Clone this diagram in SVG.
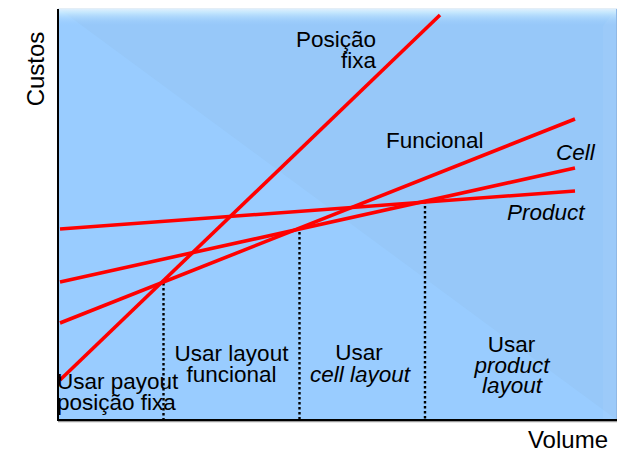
<svg xmlns="http://www.w3.org/2000/svg" width="619" height="452" viewBox="0 0 619 452">
  <defs>
    <linearGradient id="topBevel" x1="0" y1="0" x2="0" y2="1">
      <stop offset="0" stop-color="#ffffff" stop-opacity="0.75"/>
      <stop offset="0.25" stop-color="#d8f4ff" stop-opacity="0.7"/>
      <stop offset="1" stop-color="#99ccff" stop-opacity="0"/>
    </linearGradient>
    <style>
      .lbl { font-family: "Liberation Sans", Arial, Helvetica, sans-serif; font-size: 22.5px; fill: #000; }
      .axis-lbl { font-family: "Liberation Sans", Arial, Helvetica, sans-serif; font-size: 24px; fill: #000; }
      .it { font-style: italic; }
      .mid { text-anchor: middle; }
      .end { text-anchor: end; }
      .cost { fill: none; stroke: #ff0000; stroke-width: 3.6; stroke-linecap: butt; }
      .split { fill: none; stroke: #000; stroke-width: 2.4; stroke-dasharray: 2.6 2.4; }
    </style>
  </defs>

  <!-- plot background -->
  <g id="plot-area">
    <rect x="58" y="8" width="559" height="412" fill="#99ccff"/>
    <polygon points="58,8 617,8 617,420" fill="#97c8f9"/>
    <rect x="58" y="8" width="559" height="18" fill="url(#topBevel)"/>
    <line x1="58" y1="8.5" x2="617" y2="8.5" stroke="#e4eef6" stroke-width="1"/>
    <polygon points="603,26 617,9 617,420 603,420" fill="#ffffff" fill-opacity="0.05"/>
    <line x1="616.5" y1="9" x2="616.5" y2="420" stroke="#8fb8e6" stroke-width="1"/>
  </g>

  <!-- axes -->
  <g id="axes">
    <line x1="58" y1="421.5" x2="617" y2="421.5" stroke="#9a9a9a" stroke-width="1.5"/>
    <line x1="58" y1="9" x2="58" y2="421" stroke="#000" stroke-width="2"/>
    <line x1="57" y1="420" x2="617" y2="420" stroke="#000" stroke-width="2"/>
    <text class="axis-lbl" transform="translate(44,69) rotate(-90)" text-anchor="middle">Custos</text>
    <text class="axis-lbl" x="608" y="448" text-anchor="end">Volume</text>
  </g>

  <!-- cost lines and break-even markers -->
  <g id="connectors">
    <line class="split" x1="163.5" y1="283" x2="163.5" y2="419"/>
    <line class="split" x1="299.5" y1="232" x2="299.5" y2="419"/>
    <line class="split" x1="425" y1="201" x2="425" y2="419"/>
    <line class="cost" x1="60" y1="380" x2="440" y2="15"/>
    <line class="cost" x1="60" y1="323" x2="575" y2="119"/>
    <line class="cost" x1="60" y1="282" x2="575" y2="168"/>
    <line class="cost" x1="60" y1="229" x2="575" y2="191"/>
  </g>

  <!-- line labels -->
  <g id="label-fixa">
    <text class="lbl end" x="376" y="47">Posição</text>
    <text class="lbl end" x="376" y="68">fixa</text>
  </g>
  <g id="label-funcional">
    <text class="lbl" x="386" y="148">Funcional</text>
  </g>
  <g id="label-cell">
    <text class="lbl it" x="556" y="160">Cell</text>
  </g>
  <g id="label-product">
    <text class="lbl it" x="507" y="220">Product</text>
  </g>

  <!-- region labels -->
  <g id="region-fixa">
    <text class="lbl" x="57" y="389">Usar payout</text>
    <text class="lbl" x="57" y="410">posição fixa</text>
  </g>
  <g id="region-funcional">
    <text class="lbl mid" x="231.5" y="361">Usar layout</text>
    <text class="lbl mid" x="231.5" y="382">funcional</text>
  </g>
  <g id="region-cell">
    <text class="lbl mid" x="359" y="360">Usar</text>
    <text class="lbl mid it" x="360" y="382">cell layout</text>
  </g>
  <g id="region-product">
    <text class="lbl mid" x="511.5" y="352">Usar</text>
    <text class="lbl mid it" x="512" y="372.5">product</text>
    <text class="lbl mid it" x="512" y="393">layout</text>
  </g>
</svg>
